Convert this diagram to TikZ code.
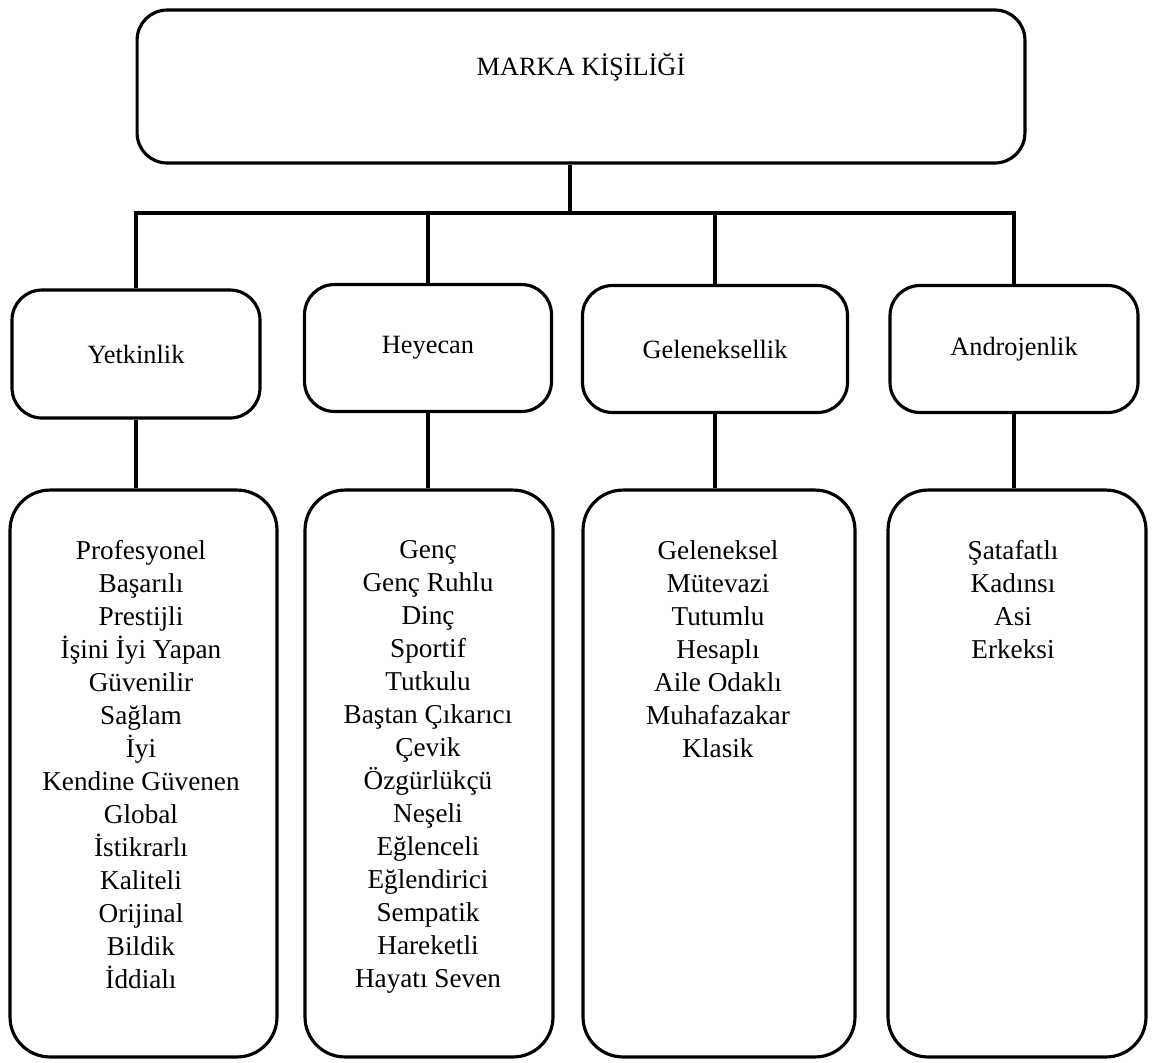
\documentclass[tikz,border=0pt]{standalone}
\usepackage{fontspec}
\setmainfont{Liberation Serif}
\begin{document}
\begin{tikzpicture}[x=0.02cm,y=-0.02cm,
  box/.style={draw=black, line width=1.8pt, rounded corners=0.6cm, fill=white, align=center,
    font=\fontsize{15}{18.8}\selectfont},
  listbox/.style={draw=black, line width=1.8pt, rounded corners=0.8cm},
  listtext/.style={anchor=north, inner sep=0pt, align=center, font=\fontsize{15.5}{18.8}\selectfont},
  conn/.style={line width=1.8pt}]
\useasboundingbox[fill=white] (0,0) rectangle (1152,1062);

% top
\node[box, minimum width=17.76cm, minimum height=3.06cm, text depth=0.9cm] (top) at (581,86.5) {MARKA KİŞİLİĞİ};

% category boxes
\node[box, minimum width=4.96cm, minimum height=2.56cm] (ym) at (136,354) {Yetkinlik};
\node[box, minimum width=4.94cm, minimum height=2.54cm] (hm) at (428,348) {Heyecan};
\node[box, minimum width=5.30cm, minimum height=2.54cm] (gm) at (715,349) {Geleneksellik};
\node[box, minimum width=4.96cm, minimum height=2.54cm] (am) at (1014,349) {Androjenlik};

% list boxes
\node[listbox, minimum width=5.34cm, minimum height=11.34cm] (yl) at (143.5,773.5) {};
\node[listbox, minimum width=4.96cm, minimum height=11.34cm] (hl) at (429,773.5) {};
\node[listbox, minimum width=5.44cm, minimum height=11.34cm] (gl) at (719,773.5) {};
\node[listbox, minimum width=5.16cm, minimum height=11.34cm] (al) at (1017,773.5) {};

\node[listtext] (yt) at (141,540) {Profesyonel\\Başarılı\\Prestijli\\İşini İyi Yapan\\Güvenilir\\Sağlam\\İyi\\Kendine Güvenen\\Global\\İstikrarlı\\Kaliteli\\Orijinal\\Bildik\\İddialı};
\node[listtext] (ht) at (428,540) {Genç\\Genç Ruhlu\\Dinç\\Sportif\\Tutkulu\\Baştan Çıkarıcı\\Çevik\\Özgürlükçü\\Neşeli\\Eğlenceli\\Eğlendirici\\Sempatik\\Hareketli\\Hayatı Seven};
\node[listtext] (gt) at (718,540) {Geleneksel\\Mütevazi\\Tutumlu\\Hesaplı\\Aile Odaklı\\Muhafazakar\\Klasik};
\node[listtext] (at) at (1013,540) {Şatafatlı\\Kadınsı\\Asi\\Erkeksi};

% connectors
\coordinate (bar) at (570,213);
\draw[conn] (top.south -| bar) -- (bar);
\draw[conn] (ym.north) |- (bar);
\draw[conn] (hm.north) |- (bar);
\draw[conn] (gm.north) |- (bar);
\draw[conn] (am.north) |- (bar);
\draw[conn] (ym.south) -- (ym.south |- yl.north);
\draw[conn] (hm.south) -- (hm.south |- hl.north);
\draw[conn] (gm.south) -- (gm.south |- gl.north);
\draw[conn] (am.south) -- (am.south |- al.north);
\end{tikzpicture}
\end{document}
